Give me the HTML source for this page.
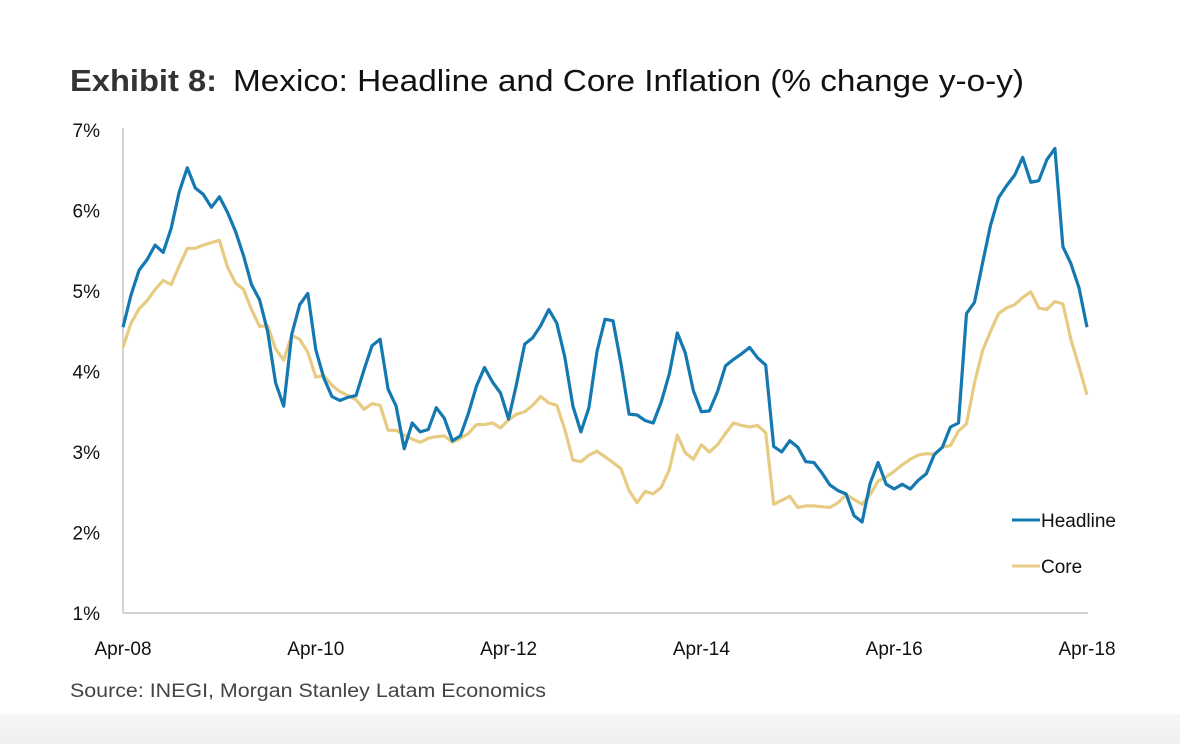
<!DOCTYPE html>
<html><head><meta charset="utf-8"><style>
html,body{margin:0;padding:0;background:#fff;}
svg{display:block;font-family:"Liberation Sans",sans-serif;}
</style></head><body>
<svg id="chart" width="1180" height="744" viewBox="0 0 1180 744">
<defs><linearGradient id="bg" x1="0" y1="0" x2="0" y2="1"><stop offset="0" stop-color="#f7f7f7"/><stop offset="1" stop-color="#efefef"/></linearGradient></defs>
<rect x="0" y="0" width="1180" height="744" fill="#fff"/>
<rect x="0" y="714" width="1180" height="30" fill="url(#bg)"/>
<g>
<text x="70" y="91" font-size="31" font-weight="bold" fill="#333" textLength="147" lengthAdjust="spacingAndGlyphs">Exhibit 8:</text>
<text x="233" y="91" font-size="31" fill="#111" textLength="791" lengthAdjust="spacingAndGlyphs">Mexico: Headline and Core Inflation (% change y-o-y)</text>
</g>
<g id="yaxis"></g>
<g id="xaxis"></g>
<g id="series"></g>
<g>
<g>
<line x1="1012" y1="520" x2="1040" y2="520" stroke="#1479b0" stroke-width="3"/>
<text x="1041" y="527" font-size="19" fill="#111">Headline</text></g>
<g>
<line x1="1012" y1="566" x2="1040" y2="566" stroke="#e8cb82" stroke-width="3"/>
<text x="1041" y="573" font-size="19" fill="#111">Core</text></g>
</g>
<text x="70" y="697" font-size="19" fill="#444" textLength="476" lengthAdjust="spacingAndGlyphs">Source: INEGI, Morgan Stanley Latam Economics</text>
</svg>
<script>
const yTicks = [1,2,3,4,5,6,7];
const xTickLabels = ["Apr-08","Apr-10","Apr-12","Apr-14","Apr-16","Apr-18"];
const xTickIndex = [0,24,48,72,96,120];
const headline = [4.55,4.95,5.26,5.39,5.57,5.48,5.78,6.23,6.53,
6.28,6.20,6.04,6.17,5.98,5.74,5.44,5.08,4.89,4.50,3.86,3.57,
4.46,4.83,4.97,4.27,3.92,3.69,3.64,3.68,3.70,4.02,4.32,4.40,
3.78,3.57,3.04,3.36,3.25,3.28,3.55,3.42,3.14,3.20,3.48,3.82,
4.05,3.87,3.73,3.41,3.85,4.34,4.42,4.57,4.77,4.60,4.18,3.57,
3.25,3.55,4.25,4.65,4.63,4.09,3.47,3.46,3.39,3.36,3.62,3.97,
4.48,4.23,3.76,3.50,3.51,3.75,4.07,4.15,4.22,4.30,4.17,4.08,
3.07,3.00,3.14,3.06,2.88,2.87,2.74,2.59,2.52,2.48,2.21,2.13,
2.61,2.87,2.60,2.54,2.60,2.54,2.65,2.73,2.97,3.06,3.31,3.36,
4.72,4.86,5.35,5.82,6.16,6.31,6.44,6.66,6.35,6.37,6.63,6.77,
5.55,5.34,5.04,4.55];
const core = [4.30,4.60,4.78,4.88,5.02,5.13,5.08,5.31,5.53,
5.53,5.57,5.60,5.63,5.30,5.10,5.02,4.77,4.56,4.57,4.28,4.14,
4.45,4.40,4.24,3.93,3.95,3.83,3.75,3.70,3.65,3.53,3.60,3.58,
3.27,3.27,3.21,3.16,3.12,3.17,3.19,3.20,3.12,3.17,3.23,3.34,
3.34,3.36,3.30,3.40,3.47,3.50,3.58,3.69,3.61,3.58,3.28,2.90,
2.88,2.96,3.01,2.94,2.87,2.79,2.52,2.37,2.51,2.48,2.56,2.78,
3.21,2.99,2.91,3.09,3.00,3.09,3.23,3.36,3.33,3.31,3.33,3.24,
2.35,2.40,2.45,2.31,2.33,2.33,2.32,2.31,2.37,2.47,2.41,2.35,
2.47,2.64,2.69,2.76,2.84,2.91,2.96,2.98,2.97,3.06,3.08,3.26,
3.35,3.86,4.26,4.50,4.72,4.79,4.83,4.92,4.99,4.79,4.77,4.87,
4.84,4.40,4.06,3.71];
const NS="http://www.w3.org/2000/svg";
const X0=123,X1=1087,Y0=613,Y1=130;
function xs(i){return X0+(X1-X0)*i/120;}
function ys(v){return Y0-(v-1)*(Y0-Y1)/6;}
const yg=document.getElementById('yaxis'),xg=document.getElementById('xaxis'),sg=document.getElementById('series');
const ax=document.createElementNS(NS,'line');


ax.setAttribute('x1',X0);ax.setAttribute('x2',X0);ax.setAttribute('y1',128);ax.setAttribute('y2',Y0);
ax.setAttribute('stroke','#aaa');ax.setAttribute('stroke-width','1');yg.appendChild(ax);
const bx=document.createElementNS(NS,'line');


bx.setAttribute('x1',X0);bx.setAttribute('x2',1088);bx.setAttribute('y1',Y0);bx.setAttribute('y2',Y0);
bx.setAttribute('stroke','#aaa');bx.setAttribute('stroke-width','1');xg.appendChild(bx);
yTicks.forEach(v=>{
 const t=document.createElementNS(NS,'text');
 
 
 t.setAttribute('x',100);t.setAttribute('y',ys(v)+7);t.setAttribute('text-anchor','end');
 t.setAttribute('font-size','19');t.setAttribute('fill','#111');t.textContent=v+'%';yg.appendChild(t);
});
xTickLabels.forEach((l,k)=>{
 const t=document.createElementNS(NS,'text');
 
 
 t.setAttribute('x',xs(xTickIndex[k]));t.setAttribute('y',655);t.setAttribute('text-anchor','middle');
 t.setAttribute('font-size','19');t.setAttribute('fill','#111');t.textContent=l;xg.appendChild(t);
});
function line(data,color,name){
 const p=document.createElementNS(NS,'polyline');
 
 
 p.setAttribute('points',data.map((v,i)=>xs(i).toFixed(1)+','+ys(v).toFixed(1)).join(' '));
 p.setAttribute('fill','none');p.setAttribute('stroke',color);p.setAttribute('stroke-width','3.2');
 p.setAttribute('stroke-linejoin','round');sg.appendChild(p);
}
line(core,'#e8cb82','core-line');
line(headline,'#1479b0','headline-line');
</script>
</body></html>
